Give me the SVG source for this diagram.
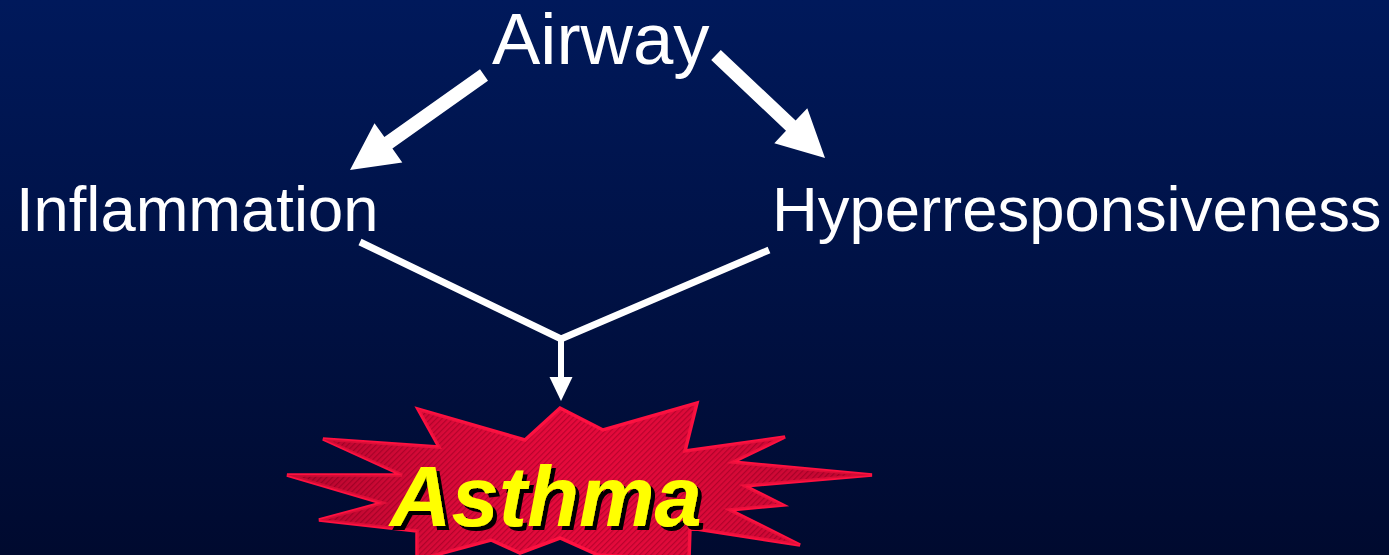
<svg xmlns="http://www.w3.org/2000/svg" width="1389" height="555" viewBox="0 0 1389 555">
  <defs>
    <linearGradient id="bg" x1="0" y1="0" x2="0" y2="1">
      <stop offset="0" stop-color="#00195b"/>
      <stop offset="1" stop-color="#000a2f"/>
    </linearGradient>
    <pattern id="hatch" width="4" height="4" patternUnits="userSpaceOnUse" patternTransform="rotate(45)">
      <rect width="4" height="4" fill="#e4083a"/>
      <rect width="1.2" height="4" fill="#b4002a"/>
    </pattern>
    <linearGradient id="shade" x1="0" y1="0" x2="1" y2="0">
      <stop offset="0" stop-color="#3a000c" stop-opacity="0.3"/>
      <stop offset="0.5" stop-color="#ff2050" stop-opacity="0.08"/>
      <stop offset="1" stop-color="#3a000c" stop-opacity="0.25"/>
    </linearGradient>
    <filter id="shadow" x="-5%" y="-10%" width="115%" height="130%">
      <feOffset in="SourceAlpha" dx="4" dy="4" result="off"/>
      <feFlood flood-color="#000000"/>
      <feComposite in2="off" operator="in" result="sh"/>
      <feMerge>
        <feMergeNode in="sh"/>
        <feMergeNode in="SourceGraphic"/>
      </feMerge>
    </filter>
    <style>
      .lbl { font-family: "Liberation Sans", Arial, sans-serif; fill: #ffffff; }
      .conn { stroke: #ffffff; fill: none; stroke-linecap: butt; stroke-linejoin: miter; }
      .head { fill: #ffffff; }
      .burst { stroke: #ff1040; stroke-width: 3.5; stroke-linejoin: miter; }
      .asthma { font-family: "Liberation Sans", Arial, sans-serif; font-weight: bold; font-style: italic; font-size: 85px; fill: #ffff00; }
    </style>
  </defs>
  <rect width="1389" height="555" fill="url(#bg)"/>

  <g id="connectors">
    <polygon class="head" points="480,69.3 488,80.7 392.4,148.5 402.3,162.4 350,170 374.5,123.2 384.4,137.1"/>
    <polygon class="head" points="720.8,49.9 795.6,120.6 807.3,108.3 825,158 774.3,143.2 786,130.8 711.2,60.1"/>
    <polyline class="conn" stroke-width="7" points="360,242 561,339 769,250"/>
    <line class="conn" stroke-width="6" x1="561" y1="338" x2="561" y2="379"/>
    <polygon class="head" points="549.5,377 572.5,377 561,401"/>
  </g>

  <g id="node-airway">
    <text class="lbl" x="492" y="64" font-size="72.5">Airway</text>
  </g>
  <g id="node-inflammation">
    <text class="lbl" x="16" y="231" font-size="63.3">Inflammation</text>
  </g>
  <g id="node-hyperresponsiveness">
    <text class="lbl" x="772" y="231" font-size="63.4">Hyperresponsiveness</text>
  </g>

  <g id="node-asthma">
    <polygon class="burst" fill="url(#hatch)" points="560,408 603,430 697,403 685,451 785,437 733,462 872,475 745,486 783,505 730,510 800,545 690,528 689,560 598,555 560,538 520,553 491,540 417,560 417,531 319,520 382,503 287,475 402,475 323,439 439,447 418,409 525,440"/>
    <polygon fill="url(#shade)" points="560,408 603,430 697,403 685,451 785,437 733,462 872,475 745,486 783,505 730,510 800,545 690,528 689,560 598,555 560,538 520,553 491,540 417,560 417,531 319,520 382,503 287,475 402,475 323,439 439,447 418,409 525,440"/>
    <text class="asthma" x="390" y="526" filter="url(#shadow)">Asthma</text>
  </g>
</svg>
